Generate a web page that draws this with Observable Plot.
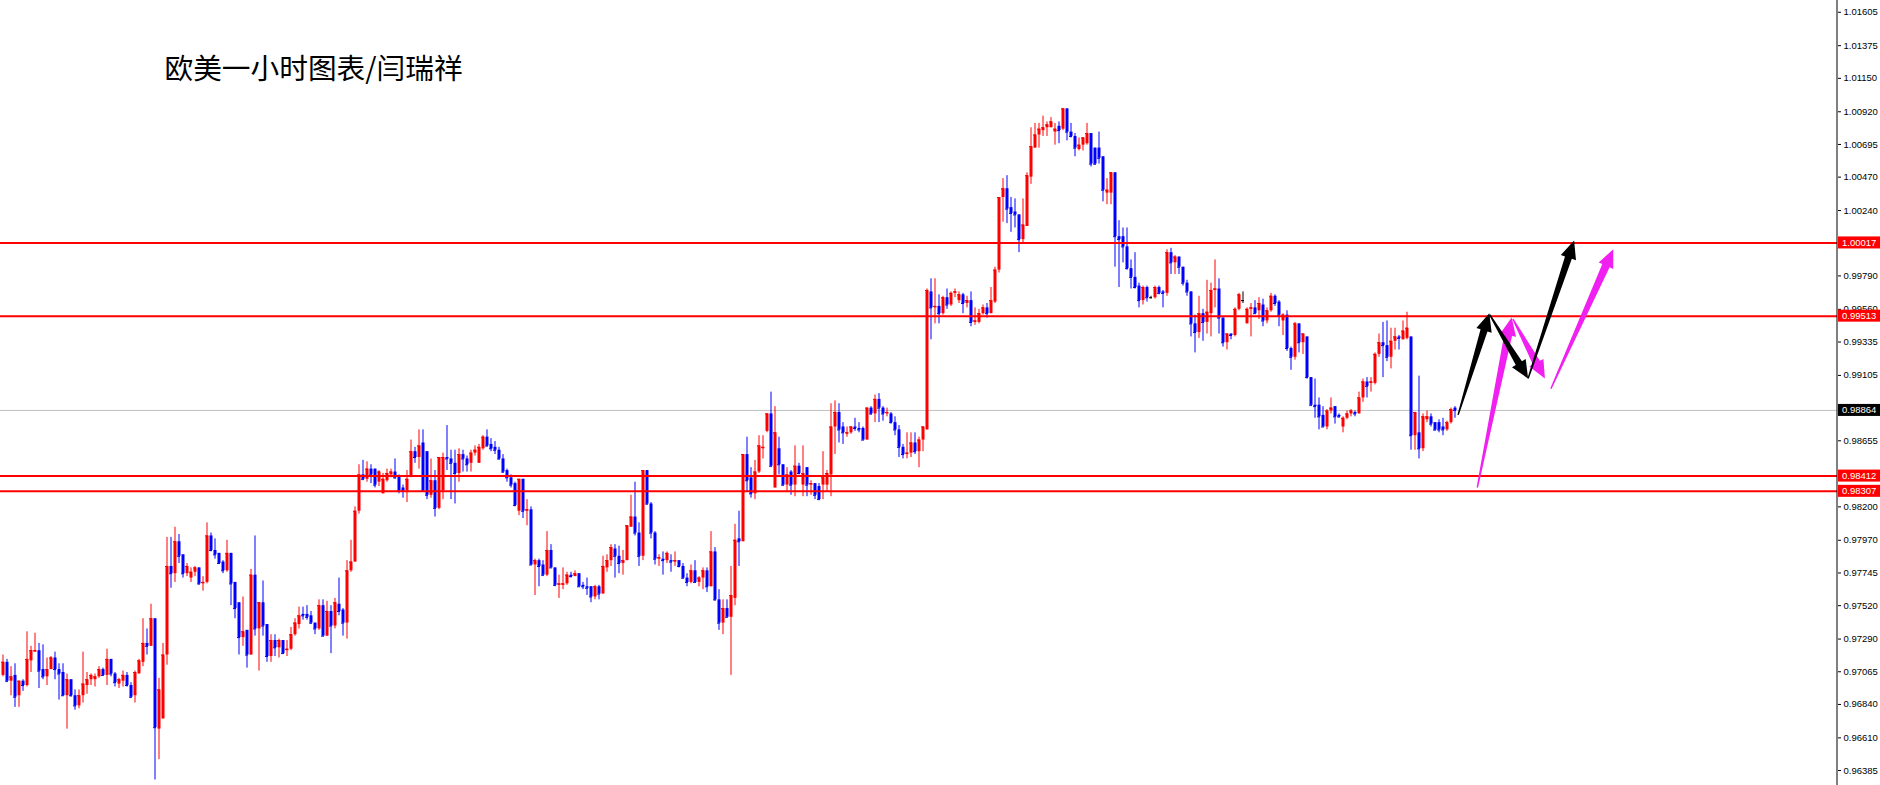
<!DOCTYPE html>
<html><head><meta charset="utf-8">
<script src="https://cdn.jsdelivr.net/npm/d3@7"></script>
<script src="https://cdn.jsdelivr.net/npm/@observablehq/plot@0.6"></script>
<style>html,body{margin:0;padding:0;background:#fff;overflow:hidden}</style>
</head><body><div id="chart"></div>
<script>
const title = "欧美一小时图表/闫瑞祥";
// hourly candles: [open, high, low, close]
const ohlc = [
[.9704,.9718,.9703,.9713],[.9713,.9715,.9699,.9700],[.9700,.9710,.9690,.9703],[.9704,.9712,.9682,.9689],[.9690,.9700,.9682,.9700],
[.9700,.9701,.9693,.9697],[.9697,.9734,.9696,.9715],[.9714,.9724,.9706,.9721],[.9720,.9733,.9720,.9721],[.9721,.9726,.9695,.9707],
[.9708,.9725,.9701,.9703],[.9703,.9716,.9697,.9708],[.9708,.9717,.9708,.9716],[.9716,.9720,.9701,.9708],[.9708,.9712,.9687,.9705],
[.9706,.9712,.9690,.9690],[.9690,.9705,.9667,.9701],[.9701,.9701,.9689,.9690],[.9690,.9694,.9680,.9683],[.9683,.9694,.9681,.9690],
[.9690,.9720,.9685,.9698],[.9697,.9706,.9691,.9701],[.9701,.9705,.9697,.9704],[.9701,.9705,.9696,.9703],[.9703,.9710,.9702,.9708],
[.9708,.9709,.9704,.9704],[.9704,.9722,.9697,.9715],[.9715,.9715,.9703,.9705],[.9705,.9706,.9696,.9699],[.9698,.9702,.9695,.9701],
[.9700,.9707,.9696,.9704],[.9704,.9706,.9696,.9697],[.9697,.9699,.9688,.9689],[.9690,.9707,.9685,.9706],[.9705,.9715,.9705,.9714],
[.9713,.9743,.9710,.9726],[.9726,.9736,.9718,.9724],[.9724,.9753,.9724,.9743],[.9743,.9743,.9632,.9668],[.9667,.9702,.9646,.9694],
[.9674,.9726,.9674,.9718],[.9718,.9799,.9711,.9779],[.9779,.9799,.9764,.9774],[.9774,.9806,.9768,.9796],[.9796,.9801,.9781,.9786],
[.9787,.9787,.9771,.9774],[.9774,.9781,.9772,.9779],[.9771,.9778,.9768,.9775],[.9775,.9779,.9772,.9778],[.9778,.9778,.9766,.9767],
[.9767,.9772,.9762,.9768],[.9768,.9809,.9767,.9800],[.9800,.9802,.9789,.9790],[.9790,.9798,.9784,.9787],[.9788,.9788,.9781,.9781],
[.9782,.9783,.9774,.9776],[.9776,.9797,.9775,.9788],[.9788,.9788,.9752,.9767],[.9768,.9768,.9743,.9750],[.9754,.9754,.9718,.9730],
[.9730,.9758,.9724,.9734],[.9735,.9735,.9709,.9718],[.9718,.9777,.9718,.9773],[.9773,.9800,.9731,.9736],[.9736,.9754,.9707,.9754],
[.9754,.9769,.9731,.9738],[.9739,.9739,.9713,.9717],[.9717,.9732,.9713,.9728],[.9728,.9732,.9717,.9723],[.9723,.9729,.9716,.9728],
[.9728,.9728,.9719,.9719],[.9721,.9728,.9717,.9722],[.9722,.9737,.9721,.9732],[.9732,.9743,.9731,.9740],[.9739,.9751,.9736,.9745],
[.9746,.9751,.9742,.9745],[.9746,.9752,.9742,.9744],[.9745,.9748,.9739,.9740],[.9740,.9740,.9732,.9736],[.9736,.9756,.9735,.9752],
[.9752,.9756,.9731,.9731],[.9731,.9755,.9731,.9748],[.9748,.9752,.9719,.9738],[.9738,.9757,.9736,.9754],[.9753,.9771,.9745,.9748],
[.9749,.9750,.9731,.9740],[.9740,.9783,.9729,.9776],[.9776,.9797,.9775,.9782],[.9782,.9820,.9782,.9817],[.9817,.9849,.9815,.9842],
[.9842,.9852,.9838,.9839],[.9839,.9851,.9837,.9846],[.9846,.9849,.9836,.9842],[.9846,.9846,.9833,.9835],[.9837,.9845,.9834,.9844],
[.9829,.9843,.9829,.9839],[.9838,.9846,.9837,.9843],[.9842,.9846,.9840,.9844],[.9844,.9853,.9839,.9840],[.9841,.9842,.9829,.9831],
[.9833,.9835,.9826,.9831],[.9831,.9845,.9823,.9839],[.9841,.9866,.9840,.9858],[.9858,.9861,.9850,.9854],[.9854,.9873,.9846,.9862],
[.9864,.9873,.9831,.9831],[.9858,.9858,.9825,.9828],[.9828,.9853,.9826,.9838],[.9838,.9845,.9813,.9819],[.9819,.9854,.9818,.9854],
[.9831,.9857,.9825,.9854],[.9854,.9876,.9845,.9853],[.9853,.9859,.9825,.9850],[.9850,.9859,.9822,.9843],[.9843,.9860,.9837,.9856],
[.9856,.9859,.9844,.9853],[.9853,.9855,.9844,.9849],[.9850,.9859,.9844,.9857],[.9857,.9862,.9855,.9859],[.9850,.9863,.9850,.9861],
[.9860,.9869,.9859,.9868],[.9868,.9873,.9861,.9862],[.9863,.9867,.9858,.9860],[.9861,.9865,.9856,.9859],[.9859,.9861,.9852,.9853],
[.9853,.9856,.9843,.9844],[.9845,.9846,.9837,.9840],[.9840,.9842,.9833,.9835],[.9836,.9837,.9820,.9821],[.9817,.9839,.9814,.9839],
[.9839,.9839,.9812,.9817],[.9817,.9825,.9807,.9818],[.9818,.9820,.9780,.9780],[.9780,.9784,.9759,.9783],[.9783,.9784,.9765,.9779],
[.9780,.9783,.9772,.9773],[.9773,.9803,.9772,.9790],[.9790,.9794,.9778,.9778],[.9778,.9778,.9765,.9766],[.9766,.9773,.9757,.9767],
[.9766,.9778,.9763,.9767],[.9767,.9775,.9766,.9773],[.9773,.9775,.9771,.9772],[.9772,.9776,.9772,.9774],[.9774,.9774,.9765,.9765],
[.9766,.9768,.9763,.9765],[.9765,.9771,.9759,.9764],[.9765,.9765,.9754,.9758],[.9758,.9766,.9756,.9765],[.9765,.9766,.9756,.9760],
[.9760,.9786,.9760,.9779],[.9778,.9787,.9775,.9783],[.9783,.9794,.9779,.9792],[.9791,.9794,.9771,.9786],[.9786,.9793,.9774,.9781],
[.9781,.9790,.9773,.9783],[.9783,.9807,.9783,.9807],[.9806,.9828,.9806,.9813],[.9813,.9837,.9800,.9802],[.9802,.9809,.9779,.9786],
[.9786,.9845,.9783,.9845],[.9845,.9845,.9821,.9822],[.9822,.9823,.9798,.9802],[.9802,.9803,.9780,.9784],[.9784,.9787,.9779,.9785],
[.9784,.9789,.9773,.9783],[.9783,.9789,.9781,.9788],[.9783,.9787,.9775,.9782],[.9782,.9789,.9779,.9783],[.9783,.9783,.9778,.9779],
[.9779,.9781,.9770,.9771],[.9771,.9774,.9765,.9768],[.9768,.9780,.9767,.9776],[.9776,.9783,.9768,.9768],[.9768,.9772,.9765,.9771],
[.9771,.9778,.9763,.9776],[.9776,.9778,.9761,.9765],[.9765,.9803,.9765,.9789],[.9789,.9792,.9755,.9756],[.9756,.9763,.9735,.9740],
[.9740,.9756,.9732,.9750],[.9750,.9756,.9744,.9744],[.9744,.9779,.9704,.9759],[.9757,.9808,.9752,.9797],[.9798,.9817,.9779,.9796],
[.9796,.9856,.9796,.9856],[.9856,.9868,.9830,.9838],[.9840,.9847,.9826,.9829],[.9829,.9852,.9825,.9844],[.9844,.9869,.9843,.9862],
[.9860,.9869,.9853,.9861],[.9872,.9884,.9871,.9884],[.9884,.9899,.9847,.9848],[.9833,.9889,.9833,.9871],[.9860,.9868,.9842,.9849],
[.9849,.9849,.9834,.9835],[.9835,.9847,.9830,.9842],[.9844,.9845,.9828,.9835],[.9835,.9862,.9827,.9848],[.9848,.9850,.9842,.9843],
[.9835,.9862,.9827,.9843],[.9847,.9847,.9827,.9835],[.9835,.9838,.9828,.9836],[.9836,.9836,.9825,.9828],[.9834,.9836,.9825,.9825],
[.9835,.9858,.9825,.9840],[.9835,.9845,.9830,.9843],[.9842,.9891,.9827,.9875],[.9875,.9893,.9856,.9885],[.9885,.9891,.9864,.9873],
[.9875,.9878,.9863,.9871],[.9870,.9875,.9868,.9871],[.9871,.9875,.9870,.9875],[.9875,.9881,.9872,.9874],[.9874,.9878,.9871,.9873],
[.9874,.9875,.9866,.9866],[.9866,.9888,.9866,.9888],[.9888,.9889,.9883,.9884],[.9884,.9897,.9878,.9894],[.9894,.9898,.9878,.9888],
[.9888,.9889,.9879,.9884],[.9884,.9888,.9882,.9885],[.9884,.9885,.9877,.9878],[.9878,.9882,.9869,.9873],[.9873,.9876,.9854,.9861],
[.9861,.9863,.9853,.9856],[.9856,.9871,.9853,.9857],[.9857,.9871,.9854,.9864],[.9864,.9871,.9856,.9858],[.9858,.9868,.9847,.9866],
[.9866,.9875,.9858,.9875],[.9873,.9970,.9873,.9969],[.9968,.9977,.9935,.9957],[.9957,.9977,.9946,.9958],[.9958,.9966,.9946,.9953],
[.9953,.9965,.9952,.9964],[.9964,.9970,.9956,.9959],[.9959,.9968,.9958,.9967],[.9967,.9970,.9964,.9968],[.9962,.9968,.9960,.9966],
[.9966,.9967,.9953,.9960],[.9960,.9965,.9957,.9962],[.9962,.9968,.9944,.9947],[.9947,.9957,.9945,.9948],[.9947,.9956,.9946,.9953],
[.9953,.9959,.9952,.9957],[.9957,.9960,.9950,.9953],[.9953,.9971,.9953,.9962],[.9961,.9985,.9960,.9983],[.9983,1.0033,.9981,1.0033],
[1.0033,1.0046,1.0016,1.0039],[1.0039,1.0048,1.0015,1.0025],[1.0026,1.0033,1.0009,1.0022],[1.0023,1.0032,1.0012,1.0021],[1.0021,1.0021,.9995,1.0004],
[1.0004,1.0032,1.0002,1.0014],[1.0013,1.0050,1.0013,1.0048],[1.0047,1.0081,1.0042,1.0068],[1.0067,1.0084,1.0067,1.0076],[1.0076,1.0084,1.0067,1.0080],
[1.0079,1.0089,1.0075,1.0081],[1.0081,1.0085,1.0075,1.0083],[1.0081,1.0088,1.0081,1.0085],[1.0078,1.0084,1.0069,1.0080],[1.0082,1.0085,1.0070,1.0079],
[1.0080,1.0094,1.0079,1.0094],[1.0094,1.0094,1.0072,1.0078],[1.0078,1.0084,1.0074,1.0075],[1.0075,1.0077,1.0061,1.0067],[1.0066,1.0074,1.0065,1.0069],
[1.0069,1.0074,1.0065,1.0074],[1.0070,1.0084,1.0069,1.0077],[1.0077,1.0077,1.0054,1.0056],[1.0067,1.0067,1.0055,1.0056],[1.0067,1.0078,1.0056,1.0060],
[1.0061,1.0061,1.0030,1.0038],[1.0036,1.0046,1.0028,1.0038],[1.0036,1.0050,1.0028,1.0050],[1.0050,1.0050,.9985,1.0006],[1.0006,1.0017,.9971,1.0004],
[1.0006,1.0012,.9988,.9999],[.9999,1.0012,.9983,.9984],[.9984,.9990,.9970,.9978],[.9978,.9995,.9970,.9971],[.9972,.9974,.9957,.9962],
[.9962,.9972,.9959,.9971],[.9971,.9972,.9961,.9964],[.9964,.9965,.9963,.9964],[.9964,.9972,.9963,.9971],[.9971,.9972,.9966,.9967],
[.9968,.9969,.9957,.9967],[.9967,.9997,.9965,.9995],[.9995,.9998,.9980,.9988],[.9988,.9993,.9980,.9992],[.9992,.9992,.9980,.9985],
[.9985,.9985,.9972,.9974],[.9974,.9976,.9965,.9968],[.9968,.9968,.9937,.9946],[.9946,.9952,.9926,.9940],[.9940,.9965,.9936,.9953],
[.9953,.9956,.9934,.9947],[.9947,.9976,.9939,.9954],[.9953,.9974,.9937,.9969],[.9969,.9990,.9957,.9970],[.9970,.9977,.9939,.9950],
[.9950,.9950,.9930,.9933],[.9933,.9939,.9928,.9939],[.9939,.9939,.9935,.9938],[.9938,.9957,.9937,.9956],[.9956,.9967,.9955,.9966],
[.9962,.9968,.9960,.9962],[.9946,.9957,.9946,.9956],[.9956,.9960,.9937,.9957],[.9957,.9962,.9953,.9953],[.9955,.9964,.9949,.9960],
[.9959,.9963,.9944,.9948],[.9948,.9957,.9946,.9955],[.9955,.9967,.9954,.9965],[.9965,.9966,.9958,.9960],[.9961,.9962,.9944,.9952],
[.9948,.9953,.9938,.9952],[.9952,.9955,.9927,.9929],[.9929,.9930,.9914,.9923],[.9923,.9947,.9921,.9946],[.9946,.9946,.9926,.9933],
[.9933,.9939,.9925,.9939],[.9937,.9937,.9908,.9909],[.9909,.9909,.9889,.9890],[.9890,.9908,.9881,.9889],[.9890,.9895,.9873,.9882],
[.9883,.9889,.9875,.9875],[.9875,.9887,.9873,.9886],[.9886,.9895,.9884,.9888],[.9889,.9889,.9877,.9882],[.9883,.9884,.9881,.9882],
[.9875,.9882,.9871,.9881],[.9881,.9886,.9880,.9884],[.9884,.9887,.9882,.9886],[.9885,.9886,.9882,.9884],[.9884,.9899,.9884,.9895],
[.9895,.9908,.9892,.9906],[.9906,.9909,.9895,.9903],[.9905,.9909,.9899,.9906],[.9905,.9926,.9904,.9925],[.9925,.9939,.9923,.9933],
[.9933,.9947,.9909,.9931],[.9931,.9948,.9920,.9923],[.9923,.9943,.9915,.9934],[.9934,.9943,.9928,.9937],[.9937,.9938,.9928,.9936],
[.9935,.9948,.9935,.9941],[.9936,.9954,.9935,.9943],[.9937,.9937,.9859,.9869],[.9869,.9885,.9859,.9885],[.9871,.9910,.9853,.9860],
[.9860,.9884,.9858,.9882],[.9880,.9886,.9878,.9882],[.9882,.9884,.9875,.9877],[.9878,.9878,.9872,.9873],[.9878,.9880,.9871,.9873],
[.9875,.9881,.9869,.9873],[.9873,.9879,.9872,.9878],[.9878,.9888,.9877,.9887],[.9888,.9889,.9881,.98864]
];
const levels = [1.00017, 0.99513, 0.98412, 0.98307];
const lastPrice = 0.98864;
const yTicks = [1.01605,1.01375,1.01150,1.00920,1.00695,1.00470,1.00240,0.99790,0.99560,0.99335,0.99105,0.98655,0.98200,0.97970,0.97745,0.97520,0.97290,0.97065,0.96840,0.96610,0.96385];
// forecast arrows: [fromBar, fromPrice, toBar, toPrice]
const blackArrows = [[363.9,0.9883,371.7,0.9953],[371.8,0.9952,381.4,0.9908],[381.4,0.9908,392.9,1.0003]];
const magentaArrows = [[368.7,0.9833,377.3,0.9950],[377.6,0.9949,385.6,0.9908],[387.1,0.9901,402.7,0.9997]];

const UP = "#ff0000", DOWN = "#0000ff", DOJI = "#000000";
const candles = ohlc.map(([o, h, l, c], i) => ({i, o, h, l, c, color: c > o ? UP : c < o ? DOWN : DOJI}));

function wedge(x0, y0, x1, y1, w0, w1, hw, hl) {
  const dx = x1 - x0, dy = y1 - y0, L = Math.hypot(dx, dy);
  const ux = dx / L, uy = dy / L, nx = -uy, ny = ux;
  const bx = x1 - ux * hl, by = y1 - uy * hl;
  return [[x0 + nx * w0, y0 + ny * w0], [bx + nx * w1, by + ny * w1], [bx + nx * hw, by + ny * hw], [x1, y1],
          [bx - nx * hw, by - ny * hw], [bx - nx * w1, by - ny * w1], [x0 - nx * w0, y0 - ny * w0]];
}

const arrowsMark = (index, scales) => {
  const g = d3.create("svg:g");
  const draw = (list, color, w1) => {
    for (const [a, p, b, q] of list) {
      const pts = wedge(scales.x(a), scales.y(p), scales.x(b), scales.y(q), 0.7, w1, 8, 18);
      g.append("polygon").attr("points", pts.map(d => d.join(",")).join(" ")).attr("fill", color);
    }
  };
  draw(magentaArrows, "#f020f0", 4);
  draw(blackArrows, "#000000", 3.6);
  return g.node();
};

const labelsMark = (index, scales) => {
  const g = d3.create("svg:g");
  const items = [[lastPrice, "#000000"], ...levels.map(v => [v, "#ff0000"])];
  for (const [v, col] of items) {
    const yy = scales.y(v);
    g.append("rect").attr("x", 1838).attr("y", yy - 6).attr("width", 42).attr("height", 12).attr("fill", col);
    g.append("text").attr("x", 1842).attr("y", yy).attr("dy", "0.36em").attr("fill", "#ffffff")
      .attr("text-anchor", "start")
      .attr("font-size", "9.5px").attr("font-family", "'Liberation Sans', Arial, sans-serif").text(d3.format(".5f")(v));
  }
  return g.node();
};

const chart = Plot.plot({
  width: 1880, height: 785,
  marginLeft: 0, marginRight: 43, marginTop: 0, marginBottom: 0,
  style: {background: "#fff", fontFamily: "'Liberation Sans', Arial, sans-serif", fontSize: "9.5px", color: "#000"},
  x: {domain: [-0.625, 458.625], axis: null},
  y: {domain: [0.96282, 1.01686], axis: "right", ticks: yTicks, tickFormat: d3.format(".5f"), tickSize: 3, tickPadding: 3, label: null},
  color: {type: "identity"},
  marks: [
    Plot.ruleY([lastPrice], {stroke: "#c0c0c0", strokeWidth: 1}),
    Plot.ruleX(candles, {x: "i", y1: d => Math.min(d.l, d.o, d.c), y2: d => Math.max(d.h, d.o, d.c), stroke: "color", strokeWidth: 1}),
    Plot.ruleX(candles, {x: "i", y1: "o", y2: "c", stroke: "color", strokeWidth: 3}),
    Plot.ruleY(candles, {y: "c", x1: d => d.i - 0.375, x2: d => d.i + 0.375, stroke: "color", strokeWidth: 1}),
    Plot.ruleY(levels, {stroke: "#ff0000", strokeWidth: 2}),
    Plot.ruleX([458.5], {stroke: "#000000", strokeWidth: 1}),
    arrowsMark,
    labelsMark,
    Plot.text([title], {text: d => d, frameAnchor: "top-left", dx: 164, dy: 69, textAnchor: "start", lineAnchor: "middle",
      fontSize: 28.7, fontFamily: "'Noto Sans CJK SC', sans-serif", fill: "#000"})
  ]
});
document.getElementById("chart").appendChild(chart);
</script>
</body></html>
